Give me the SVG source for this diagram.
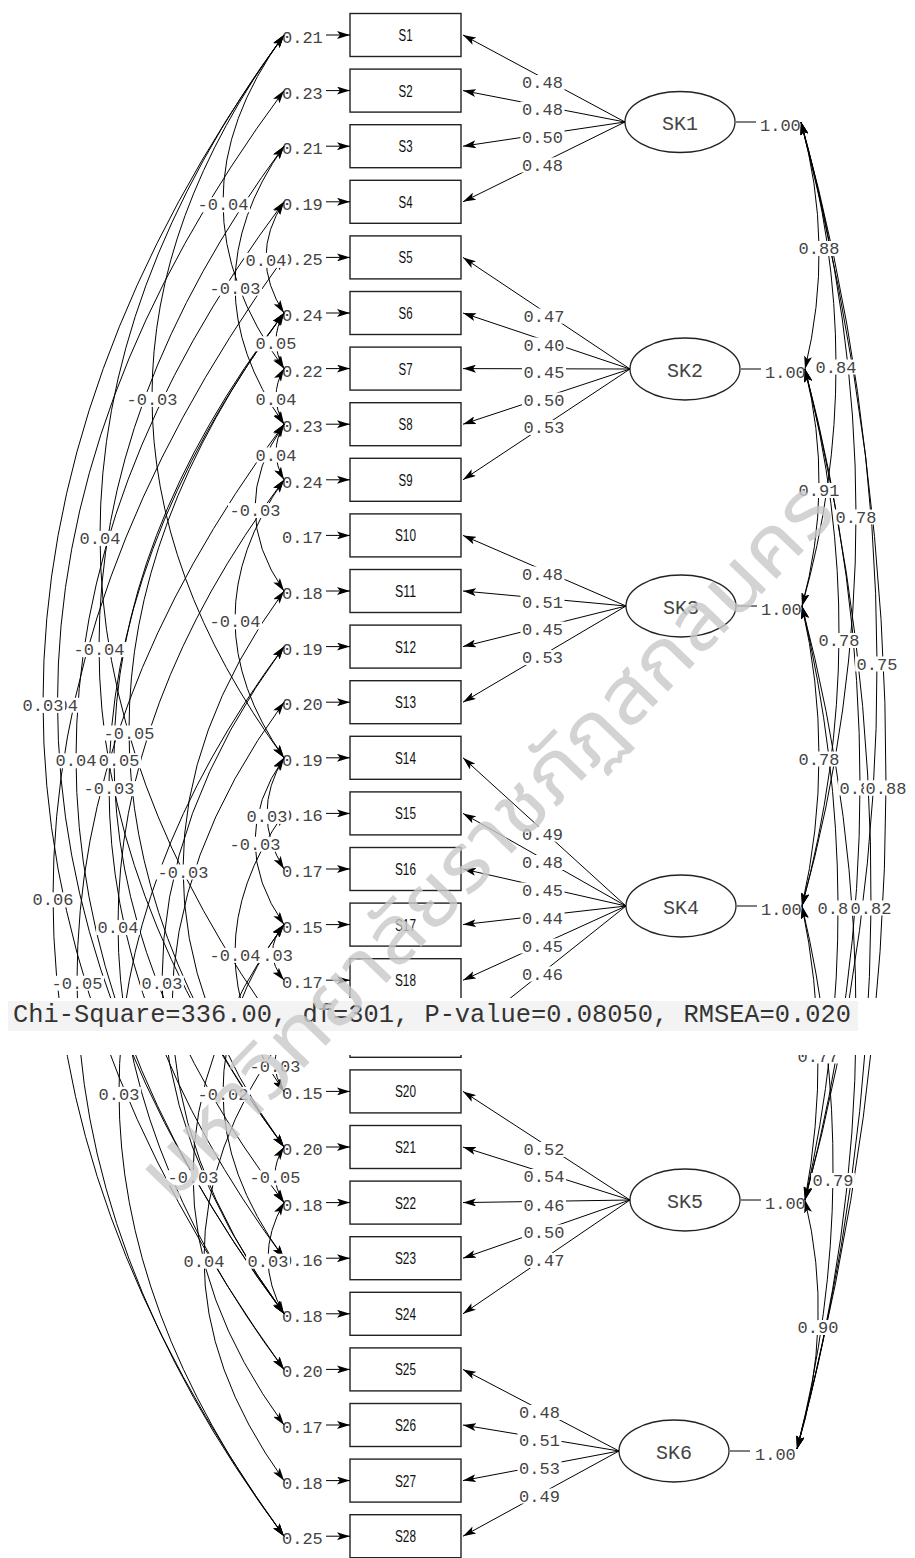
<svg xmlns="http://www.w3.org/2000/svg" width="915" height="1558" viewBox="0 0 915 1558">
<style>
.t{font-family:'Liberation Mono','Courier New',monospace;font-size:17px;fill:#444}
.m{text-anchor:middle}
.bx{fill:#fff;stroke:#222;stroke-width:1.4}
.bl{font-family:'Liberation Sans',Arial,sans-serif;font-size:16px;fill:#111;text-anchor:middle}
.el{fill:#fff;stroke:#222;stroke-width:1.3}
.lt{font-family:'Liberation Mono','Courier New',monospace;font-size:20px;fill:#444;text-anchor:middle}
.ln{fill:none;stroke:#000;stroke-width:1}
.ar{marker-end:url(#ah)}
.dd{marker-start:url(#ah);marker-end:url(#ah)}
.bg{fill:#fff}
</style>
<defs>
<marker id="ah" viewBox="0 0 13 8" refX="13" refY="4" markerWidth="13" markerHeight="8" markerUnits="userSpaceOnUse" orient="auto-start-reverse"><path d="M0,0 L13,4 L0,8 L3,4 z" fill="#000"/></marker>
</defs>
<rect width="915" height="1558" fill="#fff"/>

<g id="S1"><rect class="bx" x="350" y="13.5" width="111" height="43"/><text class="bl" x="405.5" y="41" textLength="14" lengthAdjust="spacingAndGlyphs">S1</text><text class="t" x="282" y="43">0.21</text></g>
<g id="S2"><rect class="bx" x="350" y="69.1" width="111" height="43"/><text class="bl" x="405.5" y="96.6" textLength="14" lengthAdjust="spacingAndGlyphs">S2</text><text class="t" x="282" y="98.6">0.23</text></g>
<g id="S3"><rect class="bx" x="350" y="124.7" width="111" height="43"/><text class="bl" x="405.5" y="152.2" textLength="14" lengthAdjust="spacingAndGlyphs">S3</text><text class="t" x="282" y="154.2">0.21</text></g>
<g id="S4"><rect class="bx" x="350" y="180.3" width="111" height="43"/><text class="bl" x="405.5" y="207.8" textLength="14" lengthAdjust="spacingAndGlyphs">S4</text><text class="t" x="282" y="209.8">0.19</text></g>
<g id="S5"><rect class="bx" x="350" y="235.9" width="111" height="43"/><text class="bl" x="405.5" y="263.4" textLength="14" lengthAdjust="spacingAndGlyphs">S5</text><text class="t" x="282" y="265.4">0.25</text></g>
<g id="S6"><rect class="bx" x="350" y="291.5" width="111" height="43"/><text class="bl" x="405.5" y="319" textLength="14" lengthAdjust="spacingAndGlyphs">S6</text><text class="t" x="282" y="321">0.24</text></g>
<g id="S7"><rect class="bx" x="350" y="347.1" width="111" height="43"/><text class="bl" x="405.5" y="374.6" textLength="14" lengthAdjust="spacingAndGlyphs">S7</text><text class="t" x="282" y="376.6">0.22</text></g>
<g id="S8"><rect class="bx" x="350" y="402.7" width="111" height="43"/><text class="bl" x="405.5" y="430.2" textLength="14" lengthAdjust="spacingAndGlyphs">S8</text><text class="t" x="282" y="432.2">0.23</text></g>
<g id="S9"><rect class="bx" x="350" y="458.3" width="111" height="43"/><text class="bl" x="405.5" y="485.8" textLength="14" lengthAdjust="spacingAndGlyphs">S9</text><text class="t" x="282" y="487.8">0.24</text></g>
<g id="S10"><rect class="bx" x="350" y="513.9" width="111" height="43"/><text class="bl" x="405.5" y="541.4" textLength="21" lengthAdjust="spacingAndGlyphs">S10</text><text class="t" x="282" y="543.4">0.17</text></g>
<g id="S11"><rect class="bx" x="350" y="569.5" width="111" height="43"/><text class="bl" x="405.5" y="597" textLength="21" lengthAdjust="spacingAndGlyphs">S11</text><text class="t" x="282" y="599">0.18</text></g>
<g id="S12"><rect class="bx" x="350" y="625.1" width="111" height="43"/><text class="bl" x="405.5" y="652.6" textLength="21" lengthAdjust="spacingAndGlyphs">S12</text><text class="t" x="282" y="654.6">0.19</text></g>
<g id="S13"><rect class="bx" x="350" y="680.7" width="111" height="43"/><text class="bl" x="405.5" y="708.2" textLength="21" lengthAdjust="spacingAndGlyphs">S13</text><text class="t" x="282" y="710.2">0.20</text></g>
<g id="S14"><rect class="bx" x="350" y="736.3" width="111" height="43"/><text class="bl" x="405.5" y="763.8" textLength="21" lengthAdjust="spacingAndGlyphs">S14</text><text class="t" x="282" y="765.8">0.19</text></g>
<g id="S15"><rect class="bx" x="350" y="791.9" width="111" height="43"/><text class="bl" x="405.5" y="819.4" textLength="21" lengthAdjust="spacingAndGlyphs">S15</text><text class="t" x="282" y="821.4">0.16</text></g>
<g id="S16"><rect class="bx" x="350" y="847.5" width="111" height="43"/><text class="bl" x="405.5" y="875" textLength="21" lengthAdjust="spacingAndGlyphs">S16</text><text class="t" x="282" y="877">0.17</text></g>
<g id="S17"><rect class="bx" x="350" y="903.1" width="111" height="43"/><text class="bl" x="405.5" y="930.6" textLength="21" lengthAdjust="spacingAndGlyphs">S17</text><text class="t" x="282" y="932.6">0.15</text></g>
<g id="S18"><rect class="bx" x="350" y="958.7" width="111" height="43"/><text class="bl" x="405.5" y="986.2" textLength="21" lengthAdjust="spacingAndGlyphs">S18</text><text class="t" x="282" y="988.2">0.17</text></g>
<g id="S19"><rect class="bx" x="350" y="1014.3" width="111" height="43"/></g>
<g id="S20"><rect class="bx" x="350" y="1069.9" width="111" height="43"/><text class="bl" x="405.5" y="1097.4" textLength="21" lengthAdjust="spacingAndGlyphs">S20</text><text class="t" x="282" y="1099.4">0.15</text></g>
<g id="S21"><rect class="bx" x="350" y="1125.5" width="111" height="43"/><text class="bl" x="405.5" y="1153" textLength="21" lengthAdjust="spacingAndGlyphs">S21</text><text class="t" x="282" y="1155">0.20</text></g>
<g id="S22"><rect class="bx" x="350" y="1181.1" width="111" height="43"/><text class="bl" x="405.5" y="1208.6" textLength="21" lengthAdjust="spacingAndGlyphs">S22</text><text class="t" x="282" y="1210.6">0.18</text></g>
<g id="S23"><rect class="bx" x="350" y="1236.7" width="111" height="43"/><text class="bl" x="405.5" y="1264.2" textLength="21" lengthAdjust="spacingAndGlyphs">S23</text><text class="t" x="282" y="1266.2">0.16</text></g>
<g id="S24"><rect class="bx" x="350" y="1292.3" width="111" height="43"/><text class="bl" x="405.5" y="1319.8" textLength="21" lengthAdjust="spacingAndGlyphs">S24</text><text class="t" x="282" y="1321.8">0.18</text></g>
<g id="S25"><rect class="bx" x="350" y="1347.9" width="111" height="43"/><text class="bl" x="405.5" y="1375.4" textLength="21" lengthAdjust="spacingAndGlyphs">S25</text><text class="t" x="282" y="1377.4">0.20</text></g>
<g id="S26"><rect class="bx" x="350" y="1403.5" width="111" height="43"/><text class="bl" x="405.5" y="1431" textLength="21" lengthAdjust="spacingAndGlyphs">S26</text><text class="t" x="282" y="1433">0.17</text></g>
<g id="S27"><rect class="bx" x="350" y="1459.1" width="111" height="43"/><text class="bl" x="405.5" y="1486.6" textLength="21" lengthAdjust="spacingAndGlyphs">S27</text><text class="t" x="282" y="1488.6">0.18</text></g>
<g id="S28"><rect class="bx" x="350" y="1514.7" width="111" height="43"/><text class="bl" x="405.5" y="1542.2" textLength="21" lengthAdjust="spacingAndGlyphs">S28</text><text class="t" x="282" y="1544.2">0.25</text></g>

<g id="SK1"><ellipse class="el" cx="680" cy="122" rx="55" ry="30.5"/><text class="lt" x="680" y="129.5">SK1</text><text class="t" x="760" y="130.5">1.00</text></g>
<g id="SK2"><ellipse class="el" cx="685" cy="369" rx="55" ry="31"/><text class="lt" x="685" y="376.5">SK2</text><text class="t" x="765" y="377.5">1.00</text></g>
<g id="SK3"><ellipse class="el" cx="681" cy="606" rx="55" ry="31"/><text class="lt" x="681" y="613.5">SK3</text><text class="t" x="761" y="614.5">1.00</text></g>
<g id="SK4"><ellipse class="el" cx="681" cy="906" rx="55" ry="31"/><text class="lt" x="681" y="913.5">SK4</text><text class="t" x="761" y="914.5">1.00</text></g>
<g id="SK5"><ellipse class="el" cx="685" cy="1200" rx="55" ry="31"/><text class="lt" x="685" y="1207.5">SK5</text><text class="t" x="765" y="1208.5">1.00</text></g>
<g id="SK6"><ellipse class="el" cx="674" cy="1451" rx="55" ry="31"/><text class="lt" x="674" y="1458.5">SK6</text><text class="t" x="755" y="1459.5">1.00</text></g>

<g id="connectors">
<g id="error-arrows" class="ln">
<path class="ar" d="M326,35H350"/><path class="ar" d="M326,90.6H350"/><path class="ar" d="M326,146.2H350"/><path class="ar" d="M326,201.8H350"/><path class="ar" d="M326,257.4H350"/><path class="ar" d="M326,313H350"/><path class="ar" d="M326,368.6H350"/><path class="ar" d="M326,424.2H350"/><path class="ar" d="M326,479.8H350"/><path class="ar" d="M326,535.4H350"/><path class="ar" d="M326,591H350"/><path class="ar" d="M326,646.6H350"/><path class="ar" d="M326,702.2H350"/><path class="ar" d="M326,757.8H350"/><path class="ar" d="M326,813.4H350"/><path class="ar" d="M326,869H350"/><path class="ar" d="M326,924.6H350"/><path class="ar" d="M326,980.2H350"/><path class="ar" d="M326,1091.4H350"/><path class="ar" d="M326,1147H350"/><path class="ar" d="M326,1202.6H350"/><path class="ar" d="M326,1258.2H350"/><path class="ar" d="M326,1313.8H350"/><path class="ar" d="M326,1369.4H350"/><path class="ar" d="M326,1425H350"/><path class="ar" d="M326,1480.6H350"/><path class="ar" d="M326,1536.2H350"/>
</g>
<g id="loadings" class="ln">
<path class="ar" d="M625,122L463,35"/><path class="ar" d="M625,122L463,90.6"/><path class="ar" d="M625,122L463,146.2"/><path class="ar" d="M625,122L463,201.8"/>
<path class="ar" d="M630,369L463,257.4"/><path class="ar" d="M630,369L463,313"/><path class="ar" d="M630,369L463,368.6"/><path class="ar" d="M630,369L463,424.2"/><path class="ar" d="M630,369L463,479.8"/>
<path class="ar" d="M626,606L463,535.4"/><path class="ar" d="M626,606L463,591"/><path class="ar" d="M626,606L463,646.6"/><path class="ar" d="M626,606L463,702.2"/>
<path class="ar" d="M626,906L463,757.8"/><path class="ar" d="M626,906L463,813.4"/><path class="ar" d="M626,906L463,869"/><path class="ar" d="M626,906L463,924.6"/><path class="ar" d="M626,906L463,980.2"/><path class="ar" d="M626,906L463,1035.8"/>
<path class="ar" d="M630,1200L463,1091.4"/><path class="ar" d="M630,1200L463,1147"/><path class="ar" d="M630,1200L463,1202.6"/><path class="ar" d="M630,1200L463,1258.2"/><path class="ar" d="M630,1200L463,1313.8"/>
<path class="ar" d="M619,1451L463,1369.4"/><path class="ar" d="M619,1451L463,1425"/><path class="ar" d="M619,1451L463,1480.6"/><path class="ar" d="M619,1451L463,1536.2"/>
<path d="M736,122H756M741,369H761M737,606H757M737,906H757M741,1200H761M730,1451H750"/>
</g>
<g id="error-covariances" class="ln">
<path class="dd" d="M284,35Q162,201.8 284,368.6"/>
<path class="dd" d="M284,201.8Q248,257.4 284,313"/>
<path class="dd" d="M284,146.2Q186,285.2 284,424.2"/>
<path class="dd" d="M284,313Q268,340.8 284,368.6"/>
<path class="dd" d="M284,35Q20,396.4 284,757.8"/>
<path class="dd" d="M284,368.6Q268,396.4 284,424.2"/>
<path class="dd" d="M284,424.2Q268,452 284,479.8"/>
<path class="dd" d="M284,424.2Q226,507.6 284,591"/>
<path class="dd" d="M284,35Q-84,535.4 284,1035.8"/>
<path class="dd" d="M284,479.8Q186,618.8 284,757.8"/>
<path class="dd" d="M284,146.2Q-86,646.6 284,1147"/>
<path class="dd" d="M284,90.6Q-169,702.2 284,1313.8"/>
<path class="dd" d="M284,35Q-198,702.2 284,1369.4"/>
<path class="dd" d="M284,313Q-26,730 284,1147"/>
<path class="dd" d="M284,201.8Q-132,757.8 284,1313.8"/>
<path class="dd" d="M284,313Q-56,757.8 284,1202.6"/>
<path class="dd" d="M284,313Q-66,785.6 284,1258.2"/>
<path class="dd" d="M284,757.8Q250,813.4 284,869"/>
<path class="dd" d="M284,757.8Q226,841.2 284,924.6"/>
<path class="dd" d="M284,591Q82,869 284,1147"/>
<path class="dd" d="M284,257.4Q-178,896.8 284,1536.2"/>
<path class="dd" d="M284,479.8Q-48,924.6 284,1369.4"/>
<path class="dd" d="M284,813.4Q186,952.4 284,1091.4"/>
<path class="dd" d="M284,924.6Q261,952.4 284,980.2"/>
<path class="dd" d="M284,424.2Q-130,980.2 284,1536.2"/>
<path class="dd" d="M284,646.6Q40,980.2 284,1313.8"/>
<path class="dd" d="M284,1035.8Q266,1063.6 284,1091.4"/>
<path class="dd" d="M284,646.6Q-46,1091.4 284,1536.2"/>
<path class="dd" d="M284,924.6Q162,1091.4 284,1258.2"/>
<path class="dd" d="M284,924.6Q102,1174.8 284,1425"/>
<path class="dd" d="M284,1147Q266,1174.8 284,1202.6"/>
<path class="dd" d="M284,1035.8Q124,1258.2 284,1480.6"/>
<path class="dd" d="M284,1202.6Q252,1258.2 284,1313.8"/>
<path class="dd" d="M284,702.2Q60,1008 284,1313.8"/>
</g>
<g id="factor-correlations" class="ln">
<path class="dd" d="M801,122Q835,245.5 805,369"/>
<path class="dd" d="M801,122Q870.5,364 802,606"/>
<path class="dd" d="M801,122Q910.5,514 802,906"/>
<path class="dd" d="M801,122Q951,661 805,1200"/>
<path class="dd" d="M801,122Q973,785.5 797,1449"/>
<path class="dd" d="M805,369Q834.5,487.5 802,606"/>
<path class="dd" d="M805,369Q874.5,637.5 802,906"/>
<path class="dd" d="M805,369Q915,784.5 805,1200"/>
<path class="dd" d="M805,369Q941,909 797,1449"/>
<path class="dd" d="M802,606Q836,756 802,906"/>
<path class="dd" d="M802,606Q872.5,903 805,1200"/>
<path class="dd" d="M802,606Q912.5,1027.5 797,1449"/>
<path class="dd" d="M802,906Q832.5,1053 805,1200"/>
<path class="dd" d="M802,906Q866.5,1177.5 797,1449"/>
<path class="dd" d="M805,1200Q835,1324.5 797,1449"/>
</g>
</g>

<g id="loading-labels">
<rect class="bg" x="520.5" y="75" width="44" height="15"/><text class="t m" x="542.5" y="88">0.48</text>
<rect class="bg" x="520.5" y="101.5" width="44" height="15"/><text class="t m" x="542.5" y="114.5">0.48</text>
<rect class="bg" x="520.5" y="130" width="44" height="15"/><text class="t m" x="542.5" y="143">0.50</text>
<rect class="bg" x="520.5" y="157.5" width="44" height="15"/><text class="t m" x="542.5" y="170.5">0.48</text>
<rect class="bg" x="522" y="308.5" width="44" height="15"/><text class="t m" x="544" y="321.5">0.47</text>
<rect class="bg" x="522" y="337.5" width="44" height="15"/><text class="t m" x="544" y="350.5">0.40</text>
<rect class="bg" x="522" y="364.5" width="44" height="15"/><text class="t m" x="544" y="377.5">0.45</text>
<rect class="bg" x="522" y="392.5" width="44" height="15"/><text class="t m" x="544" y="405.5">0.50</text>
<rect class="bg" x="522" y="420" width="44" height="15"/><text class="t m" x="544" y="433">0.53</text>
<rect class="bg" x="520.5" y="566.5" width="44" height="15"/><text class="t m" x="542.5" y="579.5">0.48</text>
<rect class="bg" x="520.5" y="595" width="44" height="15"/><text class="t m" x="542.5" y="608">0.51</text>
<rect class="bg" x="520.5" y="621.5" width="44" height="15"/><text class="t m" x="542.5" y="634.5">0.45</text>
<rect class="bg" x="520.5" y="650" width="44" height="15"/><text class="t m" x="542.5" y="663">0.53</text>
<rect class="bg" x="520.5" y="826.5" width="44" height="15"/><text class="t m" x="542.5" y="839.5">0.49</text>
<rect class="bg" x="520.5" y="855" width="44" height="15"/><text class="t m" x="542.5" y="868">0.48</text>
<rect class="bg" x="520.5" y="882.5" width="44" height="15"/><text class="t m" x="542.5" y="895.5">0.45</text>
<rect class="bg" x="520.5" y="910.5" width="44" height="15"/><text class="t m" x="542.5" y="923.5">0.44</text>
<rect class="bg" x="520.5" y="938.5" width="44" height="15"/><text class="t m" x="542.5" y="951.5">0.45</text>
<rect class="bg" x="520.5" y="966.5" width="44" height="15"/><text class="t m" x="542.5" y="979.5">0.46</text>
<rect class="bg" x="522" y="1142" width="44" height="15"/><text class="t m" x="544" y="1155">0.52</text>
<rect class="bg" x="522" y="1169" width="44" height="15"/><text class="t m" x="544" y="1182">0.54</text>
<rect class="bg" x="522" y="1197.5" width="44" height="15"/><text class="t m" x="544" y="1210.5">0.46</text>
<rect class="bg" x="522" y="1224.5" width="44" height="15"/><text class="t m" x="544" y="1237.5">0.50</text>
<rect class="bg" x="522" y="1253" width="44" height="15"/><text class="t m" x="544" y="1266">0.47</text>
<rect class="bg" x="517.5" y="1405" width="44" height="15"/><text class="t m" x="539.5" y="1418">0.48</text>
<rect class="bg" x="517.5" y="1432.5" width="44" height="15"/><text class="t m" x="539.5" y="1445.5">0.51</text>
<rect class="bg" x="517.5" y="1461" width="44" height="15"/><text class="t m" x="539.5" y="1474">0.53</text>
<rect class="bg" x="517.5" y="1488.5" width="44" height="15"/><text class="t m" x="539.5" y="1501.5">0.49</text>
</g>

<g id="covariance-labels">
<rect class="bg" x="196" y="197.3" width="54" height="15"/><text class="t m" x="223" y="210.3">-0.04</text>
<rect class="bg" x="244.1" y="252.9" width="43.8" height="15"/><text class="t m" x="266" y="265.9">0.04</text>
<rect class="bg" x="208" y="280.7" width="54" height="15"/><text class="t m" x="235" y="293.7">-0.03</text>
<rect class="bg" x="254.1" y="336.3" width="43.8" height="15"/><text class="t m" x="276" y="349.3">0.05</text>
<rect class="bg" x="125" y="391.9" width="54" height="15"/><text class="t m" x="152" y="404.9">-0.03</text>
<rect class="bg" x="254.1" y="391.9" width="43.8" height="15"/><text class="t m" x="276" y="404.9">0.04</text>
<rect class="bg" x="254.1" y="447.5" width="43.8" height="15"/><text class="t m" x="276" y="460.5">0.04</text>
<rect class="bg" x="228" y="503.1" width="54" height="15"/><text class="t m" x="255" y="516.1">-0.03</text>
<rect class="bg" x="78.1" y="530.9" width="43.8" height="15"/><text class="t m" x="100" y="543.9">0.04</text>
<rect class="bg" x="208" y="614.3" width="54" height="15"/><text class="t m" x="235" y="627.3">-0.04</text>
<rect class="bg" x="72" y="642.1" width="54" height="15"/><text class="t m" x="99" y="655.1">-0.04</text>
<rect class="bg" x="35.6" y="697.7" width="43.8" height="15"/><text class="t m" x="57.5" y="710.7">0.04</text>
<rect class="bg" x="21.1" y="697.7" width="43.8" height="15"/><text class="t m" x="43" y="710.7">0.03</text>
<rect class="bg" x="102" y="725.5" width="54" height="15"/><text class="t m" x="129" y="738.5">-0.05</text>
<rect class="bg" x="87" y="753.3" width="54" height="15"/><text class="t m" x="114" y="766.3">-0.05</text>
<rect class="bg" x="54.1" y="753.3" width="43.8" height="15"/><text class="t m" x="76" y="766.3">0.04</text>
<rect class="bg" x="82" y="781.1" width="54" height="15"/><text class="t m" x="109" y="794.1">-0.03</text>
<rect class="bg" x="245.1" y="808.9" width="43.8" height="15"/><text class="t m" x="267" y="821.9">0.03</text>
<rect class="bg" x="228" y="836.7" width="54" height="15"/><text class="t m" x="255" y="849.7">-0.03</text>
<rect class="bg" x="156" y="864.5" width="54" height="15"/><text class="t m" x="183" y="877.5">-0.03</text>
<rect class="bg" x="31.1" y="892.3" width="43.8" height="15"/><text class="t m" x="53" y="905.3">0.06</text>
<rect class="bg" x="96.1" y="920.1" width="43.8" height="15"/><text class="t m" x="118" y="933.1">0.04</text>
<rect class="bg" x="250.6" y="947.9" width="43.8" height="15"/><text class="t m" x="272.5" y="960.9">0.03</text>
<rect class="bg" x="208" y="947.9" width="54" height="15"/><text class="t m" x="235" y="960.9">-0.04</text>
<rect class="bg" x="50" y="975.7" width="54" height="15"/><text class="t m" x="77" y="988.7">-0.05</text>
<rect class="bg" x="140.1" y="975.7" width="43.8" height="15"/><text class="t m" x="162" y="988.7">0.03</text>
<rect class="bg" x="248" y="1059.1" width="54" height="15"/><text class="t m" x="275" y="1072.1">-0.03</text>
<rect class="bg" x="97.1" y="1086.9" width="43.8" height="15"/><text class="t m" x="119" y="1099.9">0.03</text>
<rect class="bg" x="196" y="1086.9" width="54" height="15"/><text class="t m" x="223" y="1099.9">-0.02</text>
<rect class="bg" x="166" y="1170.3" width="54" height="15"/><text class="t m" x="193" y="1183.3">-0.03</text>
<rect class="bg" x="248" y="1170.3" width="54" height="15"/><text class="t m" x="275" y="1183.3">-0.05</text>
<rect class="bg" x="182.1" y="1253.7" width="43.8" height="15"/><text class="t m" x="204" y="1266.7">0.04</text>
<rect class="bg" x="246.1" y="1253.7" width="43.8" height="15"/><text class="t m" x="268" y="1266.7">0.03</text>
</g>

<g id="correlation-labels">
<rect class="bg" x="797.1" y="241" width="43.8" height="15"/><text class="t m" x="819" y="254">0.88</text>
<rect class="bg" x="814.1" y="359.5" width="43.8" height="15"/><text class="t m" x="836" y="372.5">0.84</text>
<rect class="bg" x="834.1" y="509.5" width="43.8" height="15"/><text class="t m" x="856" y="522.5">0.78</text>
<rect class="bg" x="855.1" y="656.5" width="43.8" height="15"/><text class="t m" x="877" y="669.5">0.75</text>
<rect class="bg" x="838.1" y="780.5" width="43.8" height="15"/><text class="t m" x="860" y="793.5">0.80</text>
<rect class="bg" x="864.1" y="780.5" width="43.8" height="15"/><text class="t m" x="886" y="793.5">0.88</text>
<rect class="bg" x="797.1" y="483" width="43.8" height="15"/><text class="t m" x="819" y="496">0.91</text>
<rect class="bg" x="817.1" y="633" width="43.8" height="15"/><text class="t m" x="839" y="646">0.78</text>
<rect class="bg" x="816.1" y="900.5" width="43.8" height="15"/><text class="t m" x="838" y="913.5">0.87</text>
<rect class="bg" x="849.1" y="900.5" width="43.8" height="15"/><text class="t m" x="871" y="913.5">0.82</text>
<rect class="bg" x="797.1" y="751.5" width="43.8" height="15"/><text class="t m" x="819" y="764.5">0.78</text>
<rect class="bg" x="796.1" y="1048.5" width="43.8" height="15"/><text class="t m" x="818" y="1061.5">0.77</text>
<rect class="bg" x="811.1" y="1173" width="43.8" height="15"/><text class="t m" x="833" y="1186">0.79</text>
<rect class="bg" x="796.1" y="1320" width="43.8" height="15"/><text class="t m" x="818" y="1333">0.90</text>
</g>

<g id="fit-statistics">
<rect x="0" y="998" width="915" height="57" fill="#fff"/>
<rect x="8" y="1001" width="850" height="30" fill="#f3f3f3"/>
<text x="13" y="1022" font-family="'Liberation Mono','Courier New',monospace" font-size="25.4" fill="#333">Chi-Square=336.00, df=301, P-value=0.08050, RMSEA=0.020</text>
</g>

<g id="watermark" opacity="0.8">
<text x="0" y="0" transform="translate(505,860) rotate(-46)" text-anchor="middle" font-family="'Noto Sans Thai','Noto Sans','DejaVu Sans',sans-serif" font-size="80" fill="#c9c9c9" textLength="960" lengthAdjust="spacingAndGlyphs">มหาวิทยาลัยราชภัฏสกลนคร</text>
</g>
</svg>
